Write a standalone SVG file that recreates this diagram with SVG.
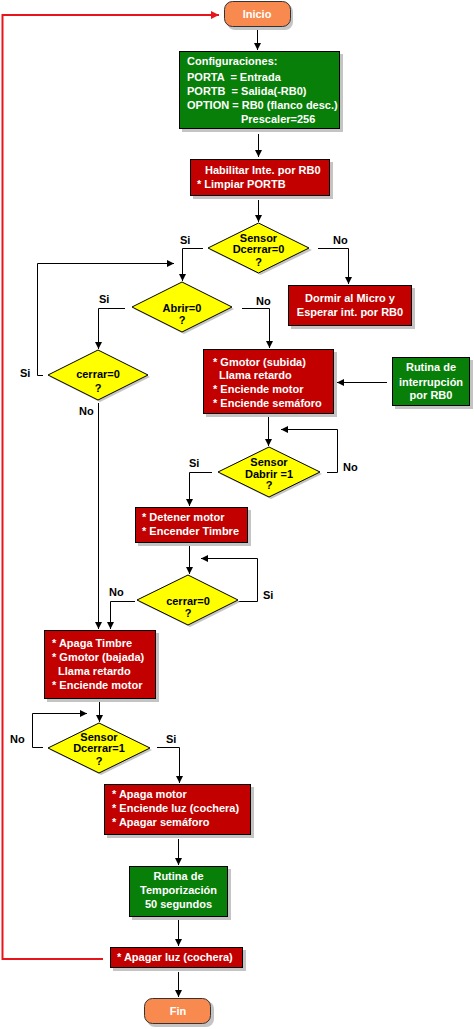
<svg xmlns="http://www.w3.org/2000/svg" width="474" height="1029" viewBox="0 0 474 1029">
<style>
.sh{fill:#c4c4c4}
.red{fill:#c20000;stroke:#000;stroke-width:1}
.grn{fill:#087f08;stroke:#000;stroke-width:1}
.dia{fill:#ffff00;stroke:#000;stroke-width:1}
.term{fill:#f98a4f;stroke:#333;stroke-width:1}
text{font-family:"Liberation Sans",Arial,sans-serif;font-weight:bold;font-size:11px}
.wt{fill:#fff}
.bt{fill:#000}
.c{text-anchor:middle}
.con{fill:none;stroke:#000;stroke-width:1;marker-end:url(#ah)}
.ret{fill:none;stroke:#e8141c;stroke-width:2;marker-end:url(#ahr)}
</style>
<defs>
<marker id="ah" markerUnits="userSpaceOnUse" markerWidth="8" markerHeight="8" refX="7" refY="3.5" orient="auto">
<path d="M0,0 L7,3.5 L0,7 z" fill="#000"/>
</marker>
<marker id="ahr" markerUnits="userSpaceOnUse" markerWidth="9" markerHeight="9" refX="8" refY="4" orient="auto">
<path d="M0,0 L8,4 L0,8 z" fill="#e8141c"/>
</marker>
</defs>
<rect width="474" height="1029" fill="#fff"/>

<g id="connectors">
<path class="ret" d="M103,959 H2.5 V15 H219"/>
<path class="con" d="M257.5,30 V50"/>
<path class="con" d="M258.5,134 V157"/>
<path class="con" d="M258.5,200 V222"/>
<path class="con" d="M203,248.5 H182.5 V281"/>
<path class="con" d="M318,248.5 H348.5 V284"/>
<path class="con" d="M125,308.5 H98.5 V349"/>
<path class="con" d="M242,308.5 H269.5 V348"/>
<path class="con" d="M43,375.5 H37.5 V263.5 H174"/>
<path class="con" d="M98.5,403 V629"/>
<path class="con" d="M387,382.5 H337"/>
<path class="con" d="M268.5,417 V446"/>
<path class="con" d="M327,472.5 H337.5 V429.5 H281"/>
<path class="con" d="M212,472.5 H189.5 V506"/>
<path class="con" d="M189.5,546 V574"/>
<path class="con" d="M238,601.5 H257.5 V558.5 H201"/>
<path class="con" d="M135,601.5 H110.5 V629"/>
<path class="con" d="M99.5,702 V722"/>
<path class="con" d="M43,747.5 H32.5 V713.5 H87"/>
<path class="con" d="M157,747.5 H179.5 V783"/>
<path class="con" d="M178.5,839 V865"/>
<path class="con" d="M178.5,920 V946"/>
<path class="con" d="M178.5,972 V997"/>
<text class="bt" x="180" y="244">Si</text>
<text class="bt" x="333" y="244">No</text>
<text class="bt" x="99" y="303">Si</text>
<text class="bt" x="256" y="305">No</text>
<text class="bt" x="20" y="377">Si</text>
<text class="bt" x="79" y="415">No</text>
<text class="bt" x="343" y="471">No</text>
<text class="bt" x="189" y="467">Si</text>
<text class="bt" x="263" y="599">Si</text>
<text class="bt" x="109" y="596">No</text>
<text class="bt" x="10" y="743">No</text>
<text class="bt" x="166" y="743">Si</text>
</g>

<g id="inicio">
<rect class="sh" x="227" y="4" width="66" height="26" rx="8"/>
<rect class="term" x="224.5" y="1.5" width="66" height="25" rx="8"/>
<text class="wt c" x="257" y="18">Inicio</text>
</g>

<g id="config">
<rect class="sh" x="182" y="54" width="161" height="78"/>
<rect class="grn" x="179.5" y="51.5" width="160" height="77"/>
<text class="wt" x="187" y="65">Configuraciones:</text>
<text class="wt" x="187" y="81" xml:space="preserve">PORTA  = Entrada</text>
<text class="wt" x="187" y="95" xml:space="preserve">PORTB  = Salida(-RB0)</text>
<text class="wt" x="187" y="109">OPTION = RB0 (flanco desc.)</text>
<text class="wt" x="241" y="123">Prescaler=256</text>
</g>

<g id="habilitar">
<rect class="sh" x="193" y="162" width="140" height="37"/>
<rect class="red" x="190.5" y="159.5" width="139" height="36"/>
<text class="wt" x="205" y="174">Habilitar Inte. por RB0</text>
<text class="wt" x="197" y="188">* Limpiar PORTB</text>
</g>

<g id="sensor-dcerrar0">
<polygon class="sh" points="260.5,225 312,250 260.5,275 210,250"/>
<polygon class="dia" points="258.5,223 309,248 258.5,273 208,248"/>
<text class="bt c" x="258.5" y="242">Sensor</text>
<text class="bt c" x="258.5" y="253">Dcerrar=0</text>
<text class="bt c" x="258.5" y="266">?</text>
</g>

<g id="dormir">
<rect class="sh" x="291" y="288" width="124" height="41"/>
<rect class="red" x="288.5" y="285.5" width="123" height="40"/>
<text class="wt c" x="350" y="302">Dormir al Micro y</text>
<text class="wt c" x="350" y="316">Esperar int. por RB0</text>
</g>

<g id="abrir0">
<polygon class="sh" points="184,284 234,309 184,334 134,309"/>
<polygon class="dia" points="182,282 232,307 182,332 132,307"/>
<text class="bt c" x="182" y="312">Abrir=0</text>
<text class="bt c" x="182" y="324">?</text>
</g>

<g id="cerrar0-a">
<polygon class="sh" points="100,352 150,377 100,402 50,377"/>
<polygon class="dia" points="98,350 148,375 98,400 48,375"/>
<text class="bt c" x="98" y="378">cerrar=0</text>
<text class="bt c" x="98" y="392">?</text>
</g>

<g id="gmotor-subida">
<rect class="sh" x="206" y="352" width="131" height="65"/>
<rect class="red" x="203.5" y="349.5" width="130" height="64"/>
<text class="wt" x="213" y="366">* Gmotor (subida)</text>
<text class="wt" x="219" y="379">Llama retardo</text>
<text class="wt" x="213" y="393">* Enciende motor</text>
<text class="wt" x="213" y="407">* Enciende semáforo</text>
</g>

<g id="rutina-interrupcion">
<rect class="sh" x="395" y="360" width="78" height="49"/>
<rect class="grn" x="392.5" y="357.5" width="77" height="48"/>
<text class="wt c" x="431" y="371">Rutina de</text>
<text class="wt c" x="431" y="386">interrupción</text>
<text class="wt c" x="431" y="399">por RB0</text>
</g>

<g id="sensor-dabrir1">
<polygon class="sh" points="271,449 322,474 271,499 220,474"/>
<polygon class="dia" points="269,447 320,472 269,497 218,472"/>
<text class="bt c" x="269" y="466">Sensor</text>
<text class="bt c" x="269" y="478">Dabrir =1</text>
<text class="bt c" x="269" y="489">?</text>
</g>

<g id="detener">
<rect class="sh" x="138" y="510" width="113" height="36"/>
<rect class="red" x="135.5" y="507.5" width="112" height="35"/>
<text class="wt" x="142" y="521">* Detener motor</text>
<text class="wt" x="142" y="535">* Encender Timbre</text>
</g>

<g id="cerrar0-b">
<polygon class="sh" points="190,577 240,602 190,627 139,602"/>
<polygon class="dia" points="188,575 238,600 188,625 137,600"/>
<text class="bt c" x="188" y="605">cerrar=0</text>
<text class="bt c" x="188" y="617">?</text>
</g>

<g id="apaga-timbre">
<rect class="sh" x="47" y="633" width="112" height="69"/>
<rect class="red" x="44.5" y="630.5" width="111" height="68"/>
<text class="wt" x="52" y="647">* Apaga Timbre</text>
<text class="wt" x="52" y="661">* Gmotor (bajada)</text>
<text class="wt" x="58" y="675">Llama retardo</text>
<text class="wt" x="52" y="689">* Enciende motor</text>
</g>

<g id="sensor-dcerrar1">
<polygon class="sh" points="101,725 152,750 101,775 50,750"/>
<polygon class="dia" points="99,723 150,748 99,773 48,748"/>
<text class="bt c" x="99" y="741">Sensor</text>
<text class="bt c" x="99" y="752">Dcerrar=1</text>
<text class="bt c" x="99" y="765">?</text>
</g>

<g id="apaga-motor">
<rect class="sh" x="107" y="787" width="147" height="51"/>
<rect class="red" x="104.5" y="784.5" width="146" height="50"/>
<text class="wt" x="112" y="798">* Apaga motor</text>
<text class="wt" x="112" y="812">* Enciende luz (cochera)</text>
<text class="wt" x="112" y="826">* Apagar semáforo</text>
</g>

<g id="temporizacion">
<rect class="sh" x="132" y="869" width="99" height="51"/>
<rect class="grn" x="129.5" y="866.5" width="98" height="50"/>
<text class="wt c" x="178.5" y="880">Rutina de</text>
<text class="wt c" x="178.5" y="894">Temporización</text>
<text class="wt c" x="178.5" y="908">50 segundos</text>
</g>

<g id="apagar-luz">
<rect class="sh" x="113" y="950" width="133" height="21"/>
<rect class="red" x="110.5" y="947.5" width="132" height="20"/>
<text class="wt" x="117" y="961">* Apagar luz (cochera)</text>
</g>

<g id="fin">
<rect class="sh" x="147" y="1001" width="67" height="26" rx="8"/>
<rect class="term" x="144.5" y="998.5" width="66" height="25" rx="8"/>
<text class="wt c" x="178" y="1015">Fin</text>
</g>
</svg>
